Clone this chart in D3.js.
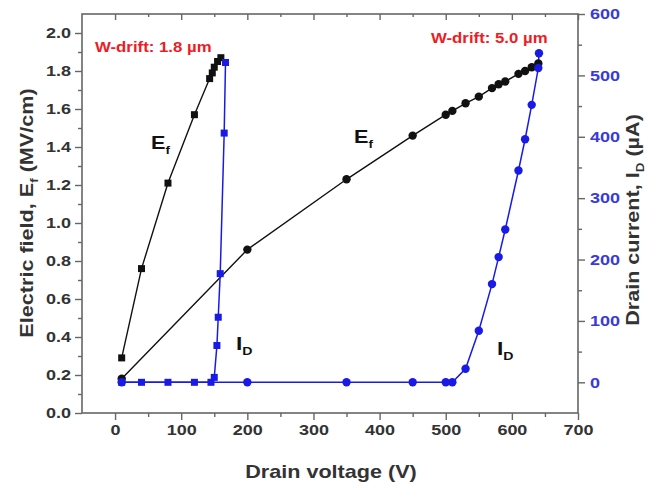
<!DOCTYPE html>
<html>
<head>
<meta charset="utf-8">
<script src="https://cdn.jsdelivr.net/npm/d3@7"></script>
<style>
  html, body { margin: 0; padding: 0; background: #fff; }
  svg { display: block; font-family: "Liberation Sans", Arial, sans-serif; font-weight: bold; }
</style>
</head>
<body>
<svg id="chart" width="655" height="487"></svg>
<script>
// Drift width 1.8 um: peak electric field and drain current vs drain voltage
const vdFieldShort = [10, 40, 80, 120, 143, 147, 150, 155, 160];
const efShort      = [0.29, 0.76, 1.21, 1.57, 1.76, 1.79, 1.82, 1.85, 1.87];
const vdCurrShort  = [10, 40, 80, 120, 145, 150, 154, 156, 159, 165, 167];
const idShort      = [0, 0, 0, 0, 0, 8, 60, 106, 177, 406, 521];

// Drift width 5.0 um
const vdFieldLong = [10, 200, 350, 450, 500, 510, 530, 550, 570, 580, 590, 610, 620, 630, 640];
const efLong      = [0.18, 0.86, 1.23, 1.46, 1.57, 1.59, 1.63, 1.665, 1.71, 1.73, 1.745, 1.785, 1.80, 1.82, 1.84];
const vdCurrLong  = [10, 200, 350, 450, 500, 510, 530, 550, 570, 580, 590, 610, 620, 630, 640, 641];
const idLong      = [0, 0, 0, 0, 0, 0, 22, 84, 160, 204, 249, 345, 396, 452, 512, 536];

// Tick values
const xMajor = [0, 100, 200, 300, 400, 500, 600, 700];
const xMinor = [50, 150, 250, 350, 450, 550, 650];
const yLeftMajor = [0, 0.2, 0.4, 0.6, 0.8, 1.0, 1.2, 1.4, 1.6, 1.8, 2.0];
const yLeftMinor = [0.1, 0.3, 0.5, 0.7, 0.9, 1.1, 1.3, 1.5, 1.7, 1.9];
const yRightMajor = [0, 100, 200, 300, 400, 500, 600];
const yRightMinor = [50, 150, 250, 350, 450, 550];

const svg = d3.select("#chart");
const L = 82, R = 578, T = 14, B = 413;
const STRETCH = 1.2;
const AXIS_COLOR = "#666";
const LABEL_COLOR = "#333";
const BLUE = "#1a1ae6";
const BLUE_LABEL = "#3a3ad8";

const x  = d3.scaleLinear().domain([-50, 700]).range([L, R]);
const yL = d3.scaleLinear().domain([0, 2.1]).range([B, T]);
const yR = d3.scaleLinear().domain([-50, 600]).range([B, T]);

// Frame
svg.append("rect").attr("x", L).attr("y", T).attr("width", R - L).attr("height", B - T)
  .attr("fill", "none").attr("stroke", AXIS_COLOR).attr("stroke-width", 1.6);

function styleAxis(g, color) {
  g.select(".domain").remove();
  g.selectAll(".tick line").attr("stroke", AXIS_COLOR).attr("stroke-width", 1.4);
  g.selectAll(".tick text").attr("fill", color).attr("font-size", 15).attr("font-weight", "bold")
    .attr("font-family", "'Liberation Sans', Arial, sans-serif");
}

// Bottom axis
const gxB = svg.append("g").attr("transform", `translate(0,${B})`)
  .call(d3.axisBottom(x).tickValues(xMajor).tickSize(7).tickPadding(4).tickFormat(d3.format("d")));
styleAxis(gxB, LABEL_COLOR);
gxB.selectAll(".tick text").attr("transform", function () {
  return `translate(0,0)`;
}).each(function () {
  const t = d3.select(this);
  const yy = +t.attr("y");
  t.attr("transform", `translate(0,${yy}) scale(${STRETCH},1) translate(0,${-yy})`);
});
const gxBm = svg.append("g").attr("transform", `translate(0,${B})`)
  .call(d3.axisBottom(x).tickValues(xMinor).tickSize(4).tickFormat(""));
styleAxis(gxBm, LABEL_COLOR);

// Top axis (ticks pointing inward)
const gxT = svg.append("g").attr("transform", `translate(0,${T})`)
  .call(d3.axisBottom(x).tickValues(xMajor).tickSize(6).tickFormat(""));
styleAxis(gxT, LABEL_COLOR);
const gxTm = svg.append("g").attr("transform", `translate(0,${T})`)
  .call(d3.axisBottom(x).tickValues(xMinor).tickSize(3).tickFormat(""));
styleAxis(gxTm, LABEL_COLOR);

// Left axis
const gyL = svg.append("g").attr("transform", `translate(${L},0)`)
  .call(d3.axisLeft(yL).tickValues(yLeftMajor).tickSize(7).tickPadding(4).tickFormat(d3.format(".1f")));
styleAxis(gyL, LABEL_COLOR);
gyL.selectAll(".tick text").each(function () {
  const t = d3.select(this);
  const xx = +t.attr("x");
  t.attr("transform", `translate(${xx},0) scale(${STRETCH},1) translate(${-xx},0)`);
});
const gyLm = svg.append("g").attr("transform", `translate(${L},0)`)
  .call(d3.axisLeft(yL).tickValues(yLeftMinor).tickSize(4).tickFormat(""));
styleAxis(gyLm, LABEL_COLOR);

// Right axis
const gyR = svg.append("g").attr("transform", `translate(${R},0)`)
  .call(d3.axisRight(yR).tickValues(yRightMajor).tickSize(7).tickPadding(5).tickFormat(d3.format("d")));
styleAxis(gyR, BLUE_LABEL);
gyR.selectAll(".tick text").each(function () {
  const t = d3.select(this);
  const xx = +t.attr("x");
  t.attr("transform", `translate(${xx},0) scale(${STRETCH},1) translate(${-xx},0)`);
});
const gyRm = svg.append("g").attr("transform", `translate(${R},0)`)
  .call(d3.axisRight(yR).tickValues(yRightMinor).tickSize(4).tickFormat(""));
styleAxis(gyRm, BLUE_LABEL);

// Text helper with horizontal stretch along the text direction
function label(px, py, rot, size, color, parts, anchor) {
  const g = svg.append("g").attr("transform", `translate(${px},${py}) rotate(${rot}) scale(${STRETCH},1)`);
  const t = g.append("text").attr("text-anchor", anchor || "start")
    .attr("font-size", size).attr("font-weight", "bold").attr("fill", color);
  parts.forEach(p => {
    const s = t.append("tspan").text(p.text);
    if (p.sub) s.attr("font-size", size * 0.62).attr("dy", size * 0.28);
    if (p.back) s.attr("dy", -size * 0.28);
  });
  return t;
}

// Axis titles
label(331, 478, 0, 18, LABEL_COLOR, [{ text: "Drain voltage (V)" }], "middle");
label(33, 213, -90, 18, LABEL_COLOR, [{ text: "Electric field, E" }, { text: "f", sub: true }, { text: " (MV/cm)", back: true }], "middle");
label(639, 220, -90, 18, LABEL_COLOR, [{ text: "Drain current, I" }, { text: "D", sub: true }, { text: " (\u00B5A)", back: true }], "middle");

// Lines and markers
const pts = (xs, ys) => xs.map((v, i) => [v, ys[i]]);
const lineL = d3.line().x(d => x(d[0])).y(d => yL(d[1]));
const lineR = d3.line().x(d => x(d[0])).y(d => yR(d[1]));

const shortField = pts(vdFieldShort, efShort);
const longField = pts(vdFieldLong, efLong);
const shortCurr = pts(vdCurrShort, idShort);
const longCurr = pts(vdCurrLong, idLong);

svg.append("path").datum(shortField).attr("d", lineL).attr("fill", "none").attr("stroke", "#111").attr("stroke-width", 1.4);
svg.append("path").datum(longField).attr("d", lineL).attr("fill", "none").attr("stroke", "#111").attr("stroke-width", 1.4);
svg.append("path").datum(shortCurr).attr("d", lineR).attr("fill", "none").attr("stroke", BLUE).attr("stroke-width", 1.5);
svg.append("path").datum(longCurr).attr("d", lineR).attr("fill", "none").attr("stroke", BLUE).attr("stroke-width", 1.5);

const SQ = 7;
svg.append("g").selectAll("rect").data(shortField).join("rect")
  .attr("x", d => x(d[0]) - SQ / 2).attr("y", d => yL(d[1]) - SQ / 2)
  .attr("width", SQ).attr("height", SQ).attr("fill", "#111");
svg.append("g").selectAll("circle").data(longField).join("circle")
  .attr("cx", d => x(d[0])).attr("cy", d => yL(d[1])).attr("r", 4.2).attr("fill", "#111");
svg.append("g").selectAll("rect").data(shortCurr).join("rect")
  .attr("x", d => x(d[0]) - SQ / 2).attr("y", d => yR(d[1]) - SQ / 2)
  .attr("width", SQ).attr("height", SQ).attr("fill", BLUE);
svg.append("g").selectAll("circle").data(longCurr).join("circle")
  .attr("cx", d => x(d[0])).attr("cy", d => yR(d[1])).attr("r", 4.2).attr("fill", BLUE);

// Annotations
label(95, 52, 0, 14, "#ee1c25", [{ text: "W-drift: 1.8 \u00B5m" }]);
label(431, 43, 0, 14, "#ee1c25", [{ text: "W-drift: 5.0 \u00B5m" }]);
label(151, 149, 0, 18, "#111", [{ text: "E" }, { text: "f", sub: true }]);
label(354, 143, 0, 18, "#111", [{ text: "E" }, { text: "f", sub: true }]);
label(236, 350, 0, 19, "#111", [{ text: "I" }, { text: "D", sub: true }]);
label(497, 355, 0, 19, "#111", [{ text: "I" }, { text: "D", sub: true }]);
</script>
</body>
</html>
